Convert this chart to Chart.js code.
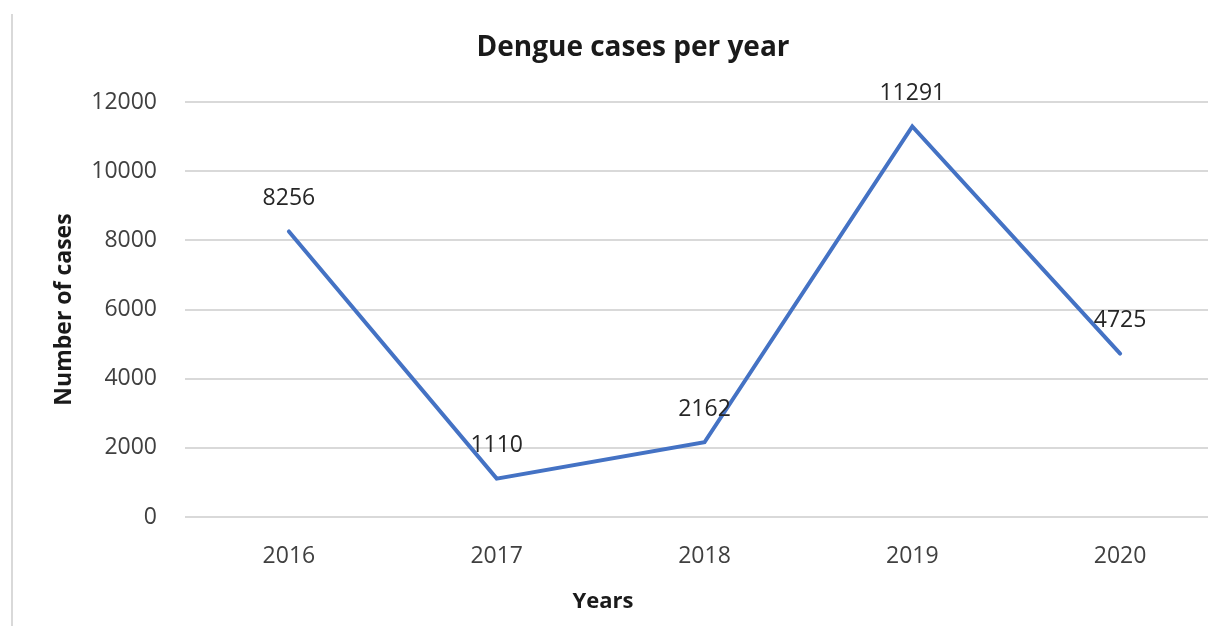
<!DOCTYPE html>
<html>
<head>
<meta charset="utf-8">
<script src="https://cdn.jsdelivr.net/npm/chart.js@4/dist/chart.umd.min.js"></script>
<style>
  html, body { margin: 0; padding: 0; background: #fff; overflow: hidden; }
  #wrap { width: 1240px; height: 626px; }
</style>
</head>
<body>
<div id="wrap"><canvas id="chart" width="1240" height="626"></canvas></div>
<script>
const years = ["2016", "2017", "2018", "2019", "2020"];
const cases = [8256, 1110, 2162, 11291, 4725];
const yTicks = [0, 2000, 4000, 6000, 8000, 10000, 12000];
const chartTitle = "Dengue cases per year";
const xTitle = "Years";
const yTitle = "Number of cases";

const FONT = "'Open Sans', 'DejaVu Sans', sans-serif";

// grey frame line on the left, plus chart title and x axis title
const framePlugin = {
  id: "frame",
  beforeDraw(chart) {
    const ctx = chart.ctx;
    ctx.save();
    ctx.strokeStyle = "#d9d9d9";
    ctx.lineWidth = 2;
    ctx.beginPath();
    ctx.moveTo(12, 14);
    ctx.lineTo(12, 626);
    ctx.stroke();

    ctx.fillStyle = "#1a1a1a";
    ctx.textAlign = "center";
    ctx.textBaseline = "middle";
    ctx.font = "bold 28px " + FONT;
    ctx.fillText(chartTitle, 633, 48);
    ctx.font = "bold 22px " + FONT;
    ctx.fillText(xTitle, 603, 602);
    ctx.restore();
  }
};

// value labels above each point
const labelPlugin = {
  id: "pointLabels",
  afterDatasetsDraw(chart) {
    const ctx = chart.ctx;
    const meta = chart.getDatasetMeta(0);
    ctx.save();
    ctx.font = "23px " + FONT;
    ctx.fillStyle = "#262626";
    ctx.textAlign = "center";
    ctx.textBaseline = "middle";
    meta.data.forEach((pt, i) => {
      ctx.fillText(String(cases[i]), pt.x, pt.y - 33);
    });
    ctx.restore();
  }
};

new Chart(document.getElementById("chart"), {
  type: "line",
  data: {
    labels: years,
    datasets: [{
      data: cases,
      borderColor: "#4472C4",
      borderWidth: 4,
      borderCapStyle: "round",
      borderJoinStyle: "miter",
      pointRadius: 0,
      tension: 0,
      fill: false
    }]
  },
  options: {
    responsive: false,
    animation: false,
    layout: { padding: { left: 0, right: 16, top: 102, bottom: 0 } },
    plugins: {
      legend: { display: false },
      tooltip: { enabled: false },
      title: { display: false }
    },
    scales: {
      x: {
        offset: true,
        grid: { display: false, drawTicks: false },
        border: { display: false },
        ticks: {
          color: "#404040",
          font: { family: FONT, size: 23 },
          padding: 26,
          maxRotation: 0
        },
        afterFit(scale) { scale.height = 109; }
      },
      y: {
        min: 0,
        max: 12000,
        afterBuildTicks(scale) { scale.ticks = yTicks.map(v => ({ value: v })); },
        grid: { color: "#d9d9d9", lineWidth: 2, drawTicks: false },
        border: { display: false },
        ticks: {
          color: "#404040",
          font: { family: FONT, size: 23 },
          padding: 28,
          callback: v => String(v)
        },
        title: {
          display: true,
          text: yTitle,
          color: "#1a1a1a",
          font: { family: FONT, size: 23, weight: "bold" },
          padding: { top: 51, bottom: 0 }
        },
        afterFit(scale) { scale.width = 185; }
      }
    }
  },
  plugins: [framePlugin, labelPlugin]
});
</script>
</body>
</html>
